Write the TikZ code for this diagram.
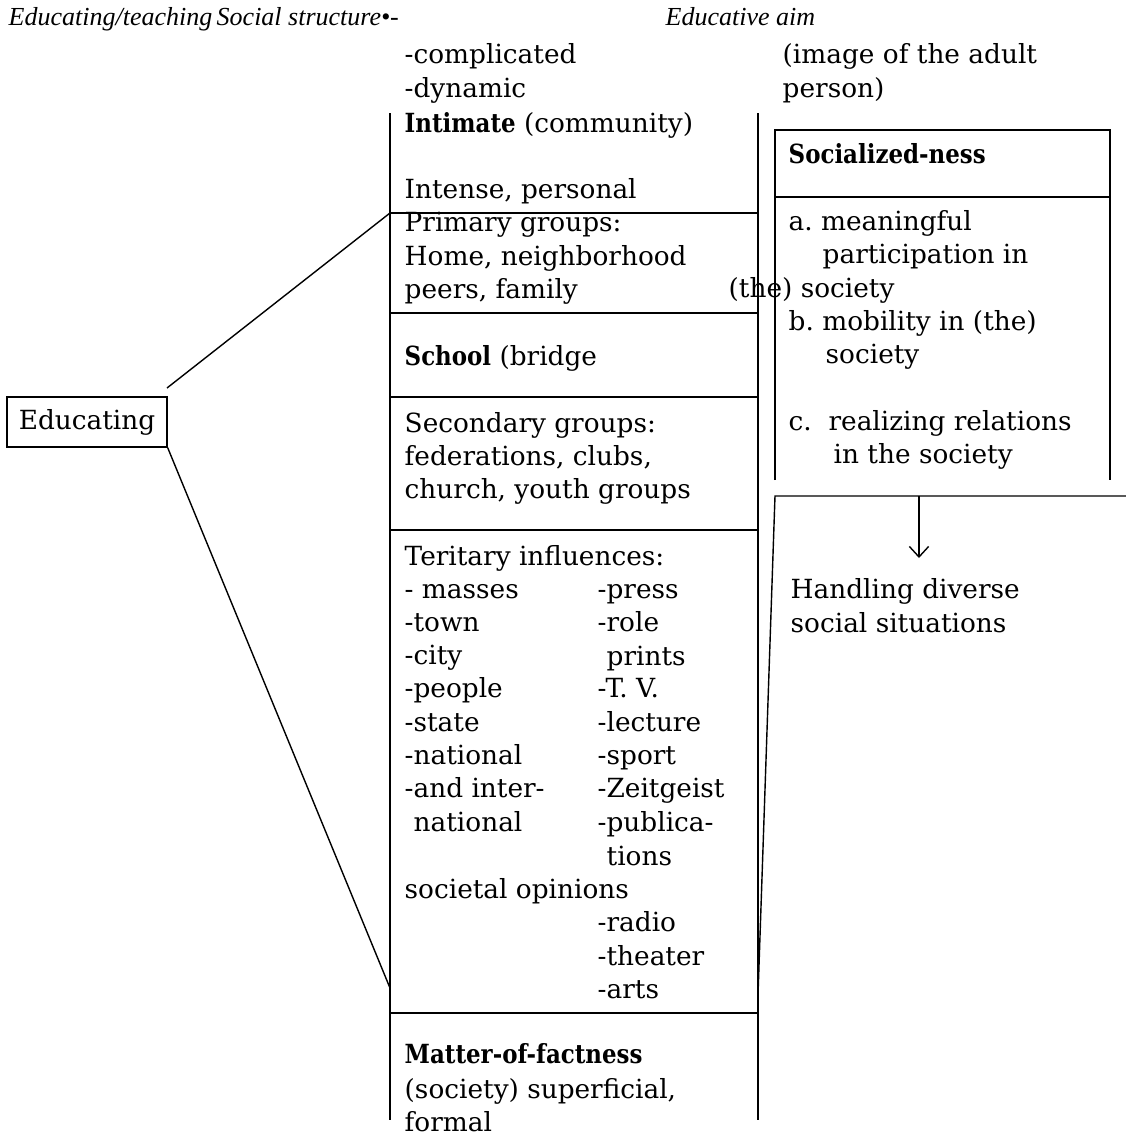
\documentclass[tikz,border=0pt]{standalone}
\usepackage{fontspec}
\setmainfont{DejaVu Serif}
\newfontfamily\headfont{Liberation Serif}
\newfontfamily\keyfont{DejaVu Serif}[FakeStretch=0.87]
\usetikzlibrary{arrows.meta}
\tikzset{
  txt/.style={anchor=base west, inner sep=0pt, font=\fontsize{15}{18.8}\selectfont},
  head/.style={anchor=base west, inner sep=0pt, font=\headfont\itshape\fontsize{14.8}{18.8}\selectfont},
}
\newcommand{\kw}[1]{{\keyfont\bfseries #1}}

\begin{document}
\begin{tikzpicture}[x=0.02cm, y=-0.02cm, line width=0.8pt]
\useasboundingbox (0,0) rectangle (1126,1137);

% headings
\node[head] (hteach) at (8,25) {Educating/teaching};
\node[head] (hsoc) at (216,25) {Social structure\textbullet-};
\node[head] (haim) at (665,25) {Educative aim};
\node[txt] (compl) at (404,63) {-complicated};
\node[txt] (dyn) at (404,97) {-dynamic};
\node[txt] (img1) at (782,63) {(image of the adult};
\node[txt] (img2) at (782,97) {person)};

% middle column
\draw (390,113) -- (390,1120);
\draw (758,113) -- (758,1120);
\foreach \y in {213,313,397,530,1013}
  \draw (390,\y) -- (758,\y);

\node[txt] (intim) at (404,132) {\kw{Intimate} (community)};
\node[txt] (intense) at (404,198) {Intense, personal};
\node[txt] (prim1) at (404,231) {Primary groups:};
\node[txt] (prim2) at (404,265) {Home, neighborhood};
\node[txt] (prim3) at (404,298) {peers, family};
\node[txt] (school) at (404,365) {\kw{School} (bridge};
\node[txt] (sec1) at (404,432) {Secondary groups:};
\node[txt] (sec2) at (404,465) {federations, clubs,};
\node[txt] (sec3) at (404,498) {church, youth groups};
\node[txt] (ter) at (404,565) {Teritary influences:};
\foreach \t [count=\i from 0] in {{- masses},-town,-city,-people,-state,-national,{-and inter-}}
  \node[txt] (tl\i) at (404,598+33.3*\i) {\t};
\node[txt] (tl7) at (413,831) {national};
\foreach \t [count=\i from 0] in {-press,-role}
  \node[txt] (tr\i) at (597,598+33.3*\i) {\t};
\node[txt] (tr2) at (606,665) {prints};
\foreach \t [count=\i from 3] in {{-T. V.},-lecture,-sport,-Zeitgeist,-publica-}
  \node[txt] (tr\i) at (597,598+33.3*\i) {\t};
\node[txt] (tr8) at (606,865) {tions};
\node[txt] (opin) at (404,898) {societal opinions};
\node[txt] (radio) at (597,931) {-radio};
\node[txt] (theat) at (597,965) {-theater};
\node[txt] (arts) at (597,998) {-arts};
\node[txt] (matter) at (404,1063) {\kw{Matter-of-factness}};
\node[txt] (super) at (404,1098) {(society) superficial,};
\node[txt] (formal) at (404,1131) {formal};

% educating and its links
\node[draw, minimum width=3.2cm, minimum height=1cm, inner sep=0pt,
  font=\fontsize{15}{18.8}\selectfont] (edu) at (87,422) {Educating};
\coordinate (eduup) at (167,388);
\coordinate (primtop) at (390,213);
\coordinate (terlow) at (390,988);
\draw (eduup) -- (primtop);
\draw (edu.south east) -- (terlow);

% aim column
\draw (775,480) -- (775,130) -- (1110,130) -- (1110,480);
\draw (775,197) -- (1110,197);
\node[txt] (social) at (788,163) {\kw{Socialized-ness}};
\node[txt] (aa1) at (788,230) {a.\ meaningful};
\node[txt] (aa2) at (822,263) {participation in};
\node[txt] (aa3) at (728,297) {(the) society};
\node[txt] (bb1) at (788,330) {b.\ mobility in (the)};
\node[txt] (bb2) at (825,363) {society};
\node[txt] (cc1) at (788,430) {c.\ \ realizing relations};
\node[txt] (cc2) at (833,463) {in the society};

\coordinate (handtop) at (775,496);
\coordinate (rightend) at (1126,496);
\coordinate (joinmid) at (758,995);
\coordinate (arrtop) at (919,496);
\coordinate (arrend) at (919,558);
\draw (joinmid) -- (handtop) -- (rightend);
\draw[-{Straight Barb[length=6pt,width=11pt]}] (arrtop) -- (arrend);
\node[txt] (hand1) at (790,598) {Handling diverse};
\node[txt] (hand2) at (790,632) {social situations};
\end{tikzpicture}
\end{document}
